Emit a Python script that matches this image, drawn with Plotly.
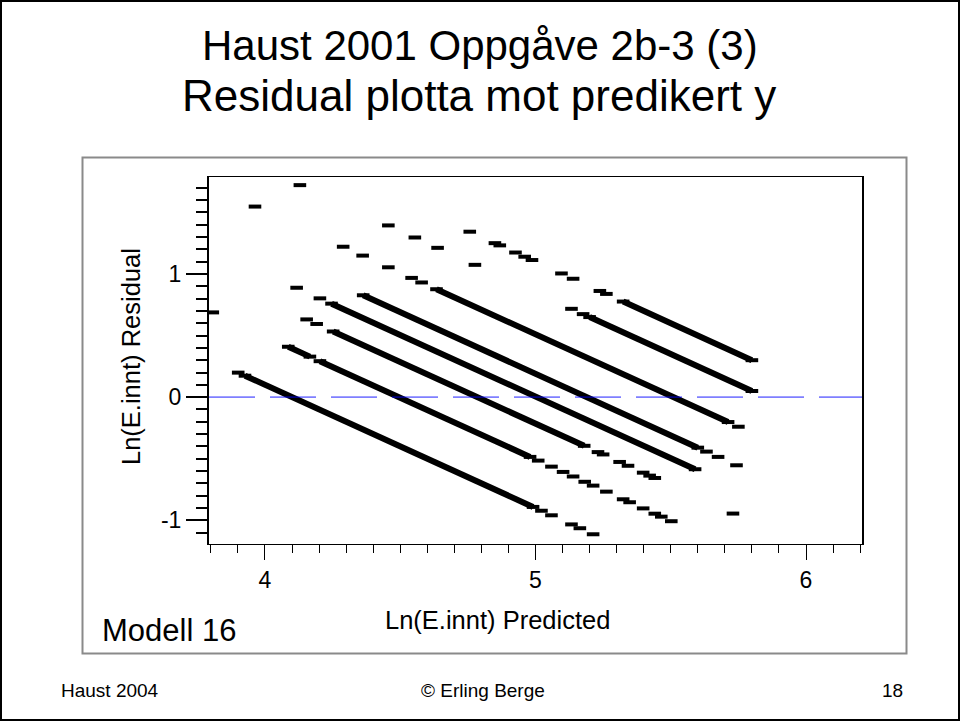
import plotly.graph_objects as go

# ---------------- data ----------------
# Observed Ln(E.innt) value of each diagonal band (residual = observed - predicted)
BAND_LEVEL = [4.10, 4.495, 4.785, 5.005, 5.19, 5.51, 5.85, 6.10]

# Predicted values of isolated observations, per band
BAND_SINGLES = [
    [3.901, 5.022, 5.059, 5.133, 5.164, 5.213],
    [3.807, 5.010, 5.059, 5.102, 5.139, 5.182, 5.213, 5.262, 5.324, 5.348,
     5.398, 5.441, 5.465, 5.502],
    [4.154, 4.191, 5.231, 5.250, 5.311, 5.342, 5.398, 5.422, 5.441, 5.730],
    [4.117, 4.203],
    [5.632, 5.675, 5.743],
    [3.963, 4.289, 4.361, 4.456, 4.542, 4.579, 5.750],
    [4.129, 4.456, 4.554, 4.638, 4.776, 5.133, 5.176],
    [4.757, 4.850, 4.868, 4.926, 4.960, 4.987, 5.096, 5.139, 5.238, 5.262],
]

# Predicted-value ranges where observations are packed densely, per band
BAND_DENSE = [
    [(3.926, 4.991)],
    [(4.086, 4.166), (4.203, 4.980)],
    [(4.252, 5.180)],
    [(4.246, 5.590)],
    [(4.363, 5.600)],
    [(4.634, 5.712)],
    [(5.200, 5.800)],
    [(5.324, 5.800)],
]

X_RANGE = [3.793, 6.207]
Y_RANGE = [-1.192, 1.787]
X_TICKS = [4, 5, 6]
X_TICK_TEXT = ["4", "5", "6"]
Y_TICKS = [-1, 0, 1]
Y_TICK_TEXT = ["-1", "0", "1"]

TITLE_1 = "Haust 2001 Oppgåve 2b-3 (3)"
TITLE_2 = "Residual plotta mot predikert y"
X_TITLE = "Ln(E.innt) Predicted"
Y_TITLE = "Ln(E.innt) Residual"
MODEL_LABEL = "Modell 16"
FOOT_LEFT = "Haust 2004"
FOOT_MID = "© Erling Berge"
FOOT_RIGHT = "18"

# ---------------- figure ----------------
FONT = "Liberation Sans, Arial, Helvetica, sans-serif"
W, H = 960, 721
PL, PR, PT, PB = 209, 862, 177, 544


def pxx(xp):
    return (xp - PL) / (PR - PL)


def pxy(yp):
    return (PB - yp) / (PB - PT)


fig = go.Figure()

marker = dict(symbol="line-ew", size=9, color="black",
              line=dict(width=4, color="black"))

# dense runs
dx, dy = [], []
for lvl, runs in zip(BAND_LEVEL, BAND_DENSE):
    for a, b in runs:
        dx += [a, b, None]
        dy += [lvl - a, lvl - b, None]
fig.add_trace(go.Scatter(x=dx, y=dy, mode="lines+markers",
                         line=dict(color="black", width=6),
                         marker=marker, hoverinfo="skip", showlegend=False))

# isolated observations
sx, sy = [], []
for lvl, xs in zip(BAND_LEVEL, BAND_SINGLES):
    for v in xs:
        sx.append(v)
        sy.append(lvl - v)
fig.add_trace(go.Scatter(x=sx, y=sy, mode="markers", marker=marker,
                         showlegend=False))

fig.update_xaxes(range=X_RANGE, showgrid=False, zeroline=False,
                 showline=True, linecolor="black", linewidth=1, mirror=True,
                 ticks="outside", ticklen=15, tickwidth=1, tickcolor="black",
                 tickvals=X_TICKS, ticktext=X_TICK_TEXT,
                 tickfont=dict(family=FONT, size=23, color="black"),
                 minor=dict(dtick=0.1, tick0=0, ticks="outside", ticklen=8,
                            tickwidth=1, tickcolor="black", showgrid=False))
fig.update_yaxes(range=Y_RANGE, showgrid=False, zeroline=False,
                 showline=True, linecolor="black", linewidth=2, mirror=True,
                 ticks="outside", ticklen=21, tickwidth=2, tickcolor="black",
                 tickvals=Y_TICKS, ticktext=Y_TICK_TEXT,
                 tickfont=dict(family=FONT, size=23, color="black"),
                 minor=dict(dtick=0.1, tick0=0, ticks="outside", ticklen=11,
                            tickwidth=2, tickcolor="black", showgrid=False))

shapes = [
    # zero reference line
    dict(type="line", xref="paper", yref="y", x0=0, x1=1, y0=0, y1=0,
         line=dict(color="rgba(0,0,255,0.5)", width=1.6, dash="46px,15px"),
         layer="above"),
    # picture frame
    dict(type="rect", xref="paper", yref="paper",
         x0=pxx(82.5), x1=pxx(906.5), y0=pxy(653.5), y1=pxy(157.5),
         line=dict(color="#8a8a8a", width=2), layer="below"),
    # slide border
    dict(type="rect", xref="paper", yref="paper",
         x0=pxx(1), x1=pxx(959), y0=pxy(720), y1=pxy(1),
         line=dict(color="black", width=2), layer="below"),
]

ann = [
    dict(text=TITLE_1, x=pxx(480), y=pxy(46), size=42, xa="center"),
    dict(text=TITLE_2, x=pxx(479), y=pxy(96), size=44, xa="center"),
    dict(text=X_TITLE, x=pxx(497), y=pxy(620), size=25.5, xa="center"),
    dict(text=MODEL_LABEL, x=pxx(100), y=pxy(630), size=31, xa="left"),
]
annotations = []
for a in ann:
    annotations.append(dict(text=a["text"], x=a["x"], y=a["y"],
                            xref="paper", yref="paper", showarrow=False,
                            xanchor=a["xa"], yanchor="middle",
                            font=dict(family=FONT, size=a["size"], color="black")))
annotations.append(dict(text=Y_TITLE, x=pxx(131), y=pxy(357), xref="paper",
                        yref="paper", showarrow=False, textangle=-90,
                        xanchor="center", yanchor="middle",
                        font=dict(family=FONT, size=25.5, color="black")))
for txt, xp, xa in [(FOOT_LEFT, 59, "left"), (FOOT_MID, 483, "center"),
                    (FOOT_RIGHT, 905, "right")]:
    annotations.append(dict(text=txt, x=pxx(xp), y=pxy(690), xref="paper",
                            yref="paper", showarrow=False, xanchor=xa,
                            yanchor="middle",
                            font=dict(family=FONT, size=19, color="black")))

fig.update_layout(width=W, height=H, autosize=False,
                  margin=dict(l=PL, r=W - PR, t=PT, b=H - PB, pad=0),
                  paper_bgcolor="white", plot_bgcolor="white",
                  shapes=shapes, annotations=annotations,
                  font=dict(family=FONT, color="black"))

fig.write_html("out.html", config={"displayModeBar": False},
               post_script="document.body.style.margin='0';"
                           "document.body.style.overflow='hidden';")
